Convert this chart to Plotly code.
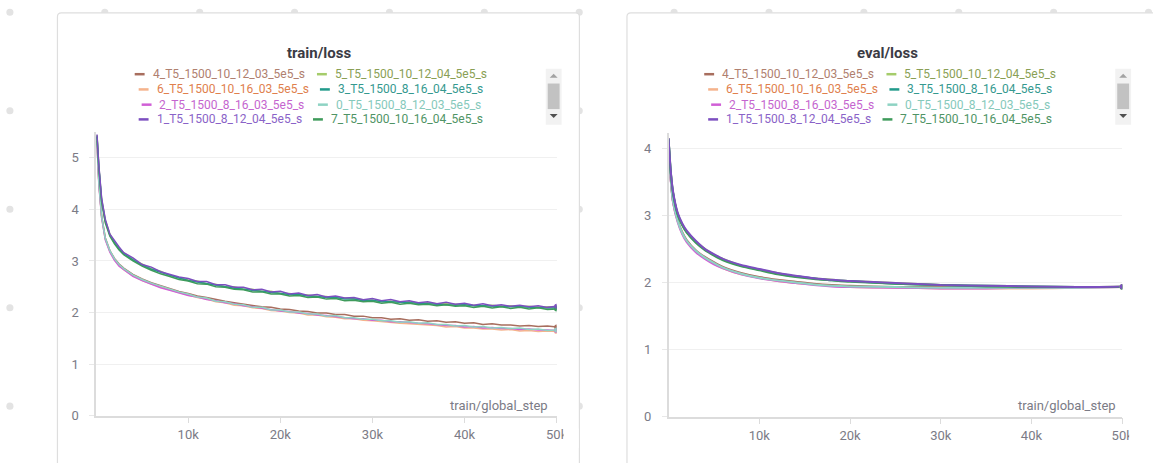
import plotly.graph_objects as go

W, H = 1153, 463

# ---------------- data ----------------
run_names = ['4_T5_1500_10_12_03_5e5_s', '5_T5_1500_10_12_04_5e5_s',
             '6_T5_1500_10_16_03_5e5_s', '3_T5_1500_8_16_04_5e5_s',
             '2_T5_1500_8_16_03_5e5_s', '0_T5_1500_8_12_03_5e5_s',
             '1_T5_1500_8_12_04_5e5_s', '7_T5_1500_10_16_04_5e5_s']
line_colors = ['#a86e5e', '#a5cc6b', '#f5b38c', '#229a8b',
               '#d05fd6', '#8ed3c3', '#7c4fc0', '#3f9b5b']
text_colors = ['#b0806f', '#8a9f55', '#e0804d', '#35998f',
               '#c565cf', '#86c9bb', '#8a63c8', '#4f9465']

train_steps = [100, 300, 600, 1000, 1500, 2000, 2500, 3000, 4000, 5000, 6000, 7000, 8000, 9000,
               10000, 11000, 12000, 13000, 14000, 15000, 16000, 17000, 18000, 19000,
               20000, 21000, 22000, 23000, 24000, 25000, 26000, 27000, 28000, 29000,
               30000, 31000, 32000, 33000, 34000, 35000, 36000, 37000, 38000, 39000,
               40000, 41000, 42000, 43000, 44000, 45000, 46000, 47000, 48000, 49000, 50000]

train_loss_4 = [5.33, 4.53, 3.88, 3.45, 3.2, 3.05, 2.94, 2.86, 2.74, 2.65, 2.58, 2.52, 2.46, 2.41,
                2.37, 2.32, 2.29, 2.25, 2.22, 2.19, 2.16, 2.14, 2.11, 2.1,
                2.07, 2.06, 2.03, 2.02, 1.99, 1.99, 1.96, 1.96, 1.93, 1.93,
                1.9, 1.9, 1.87, 1.88, 1.85, 1.86, 1.83, 1.84, 1.81, 1.82,
                1.79, 1.8, 1.77, 1.78, 1.76, 1.76, 1.74, 1.75, 1.73, 1.74, 1.72]
train_loss_5 = [5.44, 4.84, 4.2, 3.79, 3.52, 3.36, 3.25, 3.16, 3.03, 2.94, 2.85, 2.8, 2.72, 2.68,
                2.63, 2.61, 2.56, 2.55, 2.5, 2.5, 2.45, 2.45, 2.41, 2.41,
                2.37, 2.37, 2.34, 2.34, 2.31, 2.31, 2.28, 2.28, 2.26, 2.25,
                2.24, 2.22, 2.22, 2.2, 2.21, 2.18, 2.19, 2.17, 2.17, 2.16,
                2.15, 2.15, 2.13, 2.14, 2.12, 2.13, 2.11, 2.12, 2.1, 2.11, 2.1]
train_loss_6 = [5.31, 4.5, 3.85, 3.42, 3.18, 3.02, 2.91, 2.83, 2.71, 2.62, 2.55, 2.49, 2.44, 2.39,
                2.34, 2.29, 2.26, 2.21, 2.19, 2.14, 2.13, 2.09, 2.08, 2.04,
                2.03, 2.0, 1.99, 1.95, 1.95, 1.92, 1.91, 1.88, 1.88, 1.85,
                1.84, 1.82, 1.81, 1.79, 1.78, 1.77, 1.75, 1.75, 1.72, 1.73,
                1.7, 1.7, 1.68, 1.68, 1.66, 1.67, 1.64, 1.65, 1.63, 1.64, 1.63]
train_loss_3 = [5.42, 4.82, 4.18, 3.77, 3.5, 3.35, 3.23, 3.14, 3.02, 2.92, 2.84, 2.78, 2.72, 2.67,
                2.62, 2.59, 2.55, 2.53, 2.5, 2.47, 2.45, 2.43, 2.41, 2.39,
                2.38, 2.35, 2.35, 2.32, 2.31, 2.29, 2.29, 2.26, 2.26, 2.23,
                2.24, 2.21, 2.21, 2.2, 2.19, 2.18, 2.17, 2.16, 2.16, 2.14,
                2.15, 2.13, 2.13, 2.12, 2.12, 2.11, 2.11, 2.1, 2.1, 2.09, 2.09]
train_loss_2 = [5.3, 4.48, 3.84, 3.41, 3.17, 3.01, 2.9, 2.83, 2.7, 2.62, 2.55, 2.48, 2.43, 2.38,
                2.33, 2.3, 2.25, 2.23, 2.19, 2.17, 2.13, 2.11, 2.08, 2.06,
                2.03, 2.02, 1.99, 1.98, 1.95, 1.94, 1.92, 1.91, 1.88, 1.88,
                1.85, 1.85, 1.82, 1.82, 1.8, 1.79, 1.78, 1.76, 1.75, 1.75,
                1.72, 1.73, 1.7, 1.71, 1.69, 1.69, 1.67, 1.68, 1.66, 1.66, 1.65]
train_loss_0 = [5.32, 4.52, 3.87, 3.44, 3.2, 3.04, 2.93, 2.85, 2.73, 2.64, 2.57, 2.51, 2.45, 2.4,
                2.36, 2.3, 2.28, 2.22, 2.21, 2.16, 2.15, 2.1, 2.1, 2.05,
                2.05, 2.01, 2.01, 1.97, 1.97, 1.93, 1.94, 1.9, 1.9, 1.87,
                1.87, 1.84, 1.84, 1.81, 1.82, 1.79, 1.8, 1.77, 1.77, 1.74,
                1.75, 1.72, 1.73, 1.7, 1.71, 1.69, 1.7, 1.67, 1.68, 1.65, 1.66]
train_loss_1 = [5.45, 4.86, 4.22, 3.81, 3.52, 3.39, 3.27, 3.16, 3.06, 2.93, 2.88, 2.79, 2.74, 2.69,
                2.66, 2.6, 2.6, 2.54, 2.54, 2.49, 2.49, 2.44, 2.45, 2.4,
                2.41, 2.36, 2.38, 2.33, 2.35, 2.3, 2.32, 2.28, 2.29, 2.25,
                2.27, 2.23, 2.25, 2.21, 2.23, 2.19, 2.21, 2.17, 2.2, 2.16,
                2.18, 2.14, 2.17, 2.13, 2.15, 2.12, 2.14, 2.11, 2.13, 2.1, 2.12]
train_loss_7 = [5.4, 4.8, 4.15, 3.74, 3.48, 3.33, 3.21, 3.12, 3.0, 2.9, 2.82, 2.75, 2.7, 2.64,
                2.61, 2.56, 2.55, 2.5, 2.49, 2.45, 2.44, 2.4, 2.4, 2.36,
                2.36, 2.32, 2.33, 2.29, 2.3, 2.26, 2.27, 2.23, 2.24, 2.21,
                2.22, 2.18, 2.2, 2.16, 2.18, 2.15, 2.16, 2.13, 2.15, 2.12,
                2.13, 2.1, 2.12, 2.09, 2.11, 2.08, 2.1, 2.07, 2.09, 2.06, 2.07]

eval_steps = [0, 250, 500, 1000, 1500, 2000, 3000, 4000, 5000, 6000, 8000, 10000,
              12000, 14000, 16000, 18000, 20000, 25000, 30000, 35000, 40000, 45000, 50000]
eval_loss_4 = [4.11, 3.52, 3.2, 2.93, 2.75, 2.63, 2.48, 2.38, 2.3, 2.23, 2.14, 2.08,
               2.04, 2.01, 1.98, 1.96, 1.95, 1.93, 1.93, 1.92, 1.92, 1.93, 1.93]
eval_loss_5 = [4.15, 3.64, 3.34, 3.03, 2.87, 2.76, 2.61, 2.5, 2.41, 2.35, 2.25, 2.19,
               2.14, 2.09, 2.06, 2.04, 2.02, 1.99, 1.96, 1.95, 1.94, 1.93, 1.94]
eval_loss_6 = [4.1, 3.51, 3.19, 2.91, 2.73, 2.61, 2.46, 2.36, 2.28, 2.21, 2.12, 2.07,
               2.02, 1.99, 1.97, 1.95, 1.93, 1.92, 1.91, 1.91, 1.91, 1.92, 1.93]
eval_loss_3 = [4.14, 3.63, 3.33, 3.02, 2.86, 2.75, 2.6, 2.49, 2.41, 2.34, 2.25, 2.19,
               2.13, 2.09, 2.06, 2.03, 2.02, 1.98, 1.96, 1.95, 1.94, 1.93, 1.93]
eval_loss_2 = [4.1, 3.5, 3.18, 2.9, 2.72, 2.6, 2.45, 2.35, 2.27, 2.21, 2.12, 2.06,
               2.02, 1.99, 1.96, 1.94, 1.93, 1.92, 1.91, 1.91, 1.92, 1.92, 1.93]
eval_loss_0 = [4.11, 3.52, 3.2, 2.92, 2.74, 2.62, 2.47, 2.37, 2.29, 2.22, 2.13, 2.07,
               2.03, 2.0, 1.97, 1.95, 1.94, 1.93, 1.92, 1.92, 1.92, 1.92, 1.93]
eval_loss_1 = [4.15, 3.65, 3.35, 3.04, 2.88, 2.77, 2.62, 2.5, 2.42, 2.35, 2.26, 2.2,
               2.14, 2.1, 2.06, 2.04, 2.02, 1.99, 1.96, 1.95, 1.94, 1.93, 1.94]
eval_loss_7 = [4.13, 3.62, 3.32, 3.01, 2.85, 2.74, 2.59, 2.48, 2.4, 2.33, 2.24, 2.18,
               2.12, 2.08, 2.05, 2.03, 2.01, 1.98, 1.96, 1.94, 1.93, 1.93, 1.93]

train_series = [train_loss_4, train_loss_5, train_loss_6, train_loss_3,
                train_loss_2, train_loss_0, train_loss_1, train_loss_7]
eval_series = [eval_loss_4, eval_loss_5, eval_loss_6, eval_loss_3,
               eval_loss_2, eval_loss_0, eval_loss_1, eval_loss_7]

x_tickvals = [10000, 20000, 30000, 40000, 50000]
x_ticktext = ['10k', '20k', '30k', '40k', '50k']
train_yticks = [0, 1, 2, 3, 4, 5]
eval_yticks = [0, 1, 2, 3, 4]
panel_titles = ['train/loss', 'eval/loss']
x_title = 'train/global_step'

# drawing order (index into run lists)
draw_order = [2, 0, 4, 5, 1, 3, 7, 6]

# ---------------- helpers ----------------
def px(x):
    return x / W


def py(y):
    return 1 - y / H


FONT = 'Roboto'
TICK_COLOR = '#7b7b86'

fig = go.Figure()

for i in draw_order:
    fig.add_trace(go.Scatter(x=train_steps, y=train_series[i], mode='lines',
                             line=dict(color=line_colors[i], width=1.5),
                             xaxis='x', yaxis='y', showlegend=False, hoverinfo='skip'))
    fig.add_trace(go.Scatter(x=eval_steps, y=eval_series[i], mode='lines',
                             line=dict(color=line_colors[i], width=2, shape='spline', smoothing=0.6),
                             xaxis='x2', yaxis='y2', showlegend=False, hoverinfo='skip'))
for i in draw_order:
    fig.add_trace(go.Scatter(x=[train_steps[-1]], y=[train_series[i][-1]], mode='markers',
                             marker=dict(color=line_colors[i], size=5),
                             xaxis='x', yaxis='y', showlegend=False, hoverinfo='skip'))
    fig.add_trace(go.Scatter(x=[eval_steps[-1]], y=[eval_series[i][-1]], mode='markers',
                             marker=dict(color=line_colors[i], size=5),
                             xaxis='x2', yaxis='y2', showlegend=False, hoverinfo='skip'))

axis_common = dict(showline=True, linecolor='#dcdcdc', linewidth=1.5,
                   tickfont=dict(family=FONT, size=13, color=TICK_COLOR),
                   zeroline=False, fixedrange=True)

xaxis_common = dict(axis_common, range=[0, 50000], tickvals=x_tickvals, ticktext=x_ticktext,
                    ticks='outside', ticklen=6, tickcolor='#dcdcdc', showgrid=False)
yaxis_common = dict(axis_common, ticks='outside', ticklen=5, tickcolor='#e8e8e8',
                    showgrid=True, gridcolor='#f0f0f0', gridwidth=1, ticklabelstandoff=8)

fig.update_layout(
    width=W, height=H, margin=dict(l=0, r=0, t=0, b=0),
    paper_bgcolor='white', plot_bgcolor='rgba(0,0,0,0)',
    xaxis=dict(xaxis_common, domain=[px(97), px(562)], anchor='y'),
    yaxis=dict(yaxis_common, domain=[py(423), py(134.3)], range=[0, 5.5],
               tickvals=train_yticks, anchor='x'),
    xaxis2=dict(xaxis_common, domain=[px(675), px(1133)], anchor='y2'),
    yaxis2=dict(yaxis_common, domain=[py(424), py(135)], range=[0, 4.23],
                tickvals=eval_yticks, anchor='x2'),
)

shapes = []
annotations = []

# background dot grid
for k in range(13):
    for j in range(5):
        cx, cy = 10 + 95.8 * k, 12.5 + 100.2 * j
        r = 3.6
        shapes.append(dict(type='circle', xref='paper', yref='paper',
                           x0=px(cx - r), x1=px(cx + r), y0=py(cy + r), y1=py(cy - r),
                           fillcolor='#e3e3e3', line=dict(width=0), layer='below'))


def rounded_rect(x0, y0, x1, y1, r):
    return (f'M {px(x0 + r)} {py(y0)} L {px(x1 - r)} {py(y0)} '
            f'Q {px(x1)} {py(y0)} {px(x1)} {py(y0 + r)} L {px(x1)} {py(y1)} '
            f'L {px(x0)} {py(y1)} L {px(x0)} {py(y0 + r)} '
            f'Q {px(x0)} {py(y0)} {px(x0 + r)} {py(y0)} Z')


for (x0, x1) in [(58, 585), (633, 1175)]:
    shapes.append(dict(type='path', xref='paper', yref='paper',
                       path=rounded_rect(x0, 13, x1, 480, 4),
                       fillcolor='white', line=dict(color='#dedede', width=1.2), layer='below'))

# titles, legends, scrollbars, axis titles
offsets = [0, 575]
title_x = [322, 896]
row_y = [75.5, 91, 106.5, 121.5]
left_x = [153, 157, 160, 157]
right_x = [337, 340, 338, 333]
for p, off in enumerate(offsets):
    annotations.append(dict(text=panel_titles[p], xref='paper', yref='paper',
                            x=px(title_x[p]), y=py(54), xanchor='center', yanchor='middle',
                            showarrow=False,
                            font=dict(family=FONT, size=15, color='#3b3b44', weight='bold')))
    for idx in range(8):
        row = idx // 2
        tx = (left_x[row] if idx % 2 == 0 else right_x[row]) + off
        ty = row_y[row]
        shapes.append(dict(type='line', xref='paper', yref='paper',
                           x0=px(tx - 17), x1=px(tx - 7), y0=py(ty), y1=py(ty),
                           line=dict(color=line_colors[idx], width=2.5)))
        annotations.append(dict(text=run_names[idx], xref='paper', yref='paper',
                                x=px(tx - 1), y=py(ty), xanchor='left', yanchor='middle',
                                showarrow=False,
                                font=dict(family=FONT, size=12, color=text_colors[idx])))
    # scrollbar
    sx = 552 + off - 1
    shapes.append(dict(type='rect', xref='paper', yref='paper',
                       x0=px(sx), x1=px(sx + 16), y0=py(127), y1=py(70),
                       fillcolor='#f2f2f2', line=dict(width=0)))
    shapes.append(dict(type='rect', xref='paper', yref='paper',
                       x0=px(sx + 2), x1=px(sx + 14), y0=py(111), y1=py(85),
                       fillcolor='#c2c2c2', line=dict(width=0)))
    cx = sx + 8
    shapes.append(dict(type='path', xref='paper', yref='paper',
                       path=f'M {px(cx - 4)} {py(79)} L {px(cx + 4)} {py(79)} L {px(cx)} {py(75)} Z',
                       fillcolor='#a3a3a3', line=dict(width=0)))
    shapes.append(dict(type='path', xref='paper', yref='paper',
                       path=f'M {px(cx - 4)} {py(116)} L {px(cx + 4)} {py(116)} L {px(cx)} {py(120)} Z',
                       fillcolor='#505050', line=dict(width=0)))
    # x axis title inside plot
    annotations.append(dict(text=x_title, xref='paper', yref='paper',
                            x=px([555, 1129][p]), y=py(413), xanchor='right', yanchor='middle',
                            showarrow=False, font=dict(family=FONT, size=13, color=TICK_COLOR)))

# panel clipping of the last tick label
shapes.append(dict(type='rect', xref='paper', yref='paper', layer='above',
                   x0=px(569), x1=px(584.2), y0=py(456), y1=py(436),
                   fillcolor='white', line=dict(width=0)))
shapes.append(dict(type='rect', xref='paper', yref='paper', layer='above',
                   x0=px(1140), x1=px(1153), y0=py(456), y1=py(436),
                   fillcolor='white', line=dict(width=0)))

fig.update_layout(shapes=shapes, annotations=annotations)

fig.write_html('out.html')
